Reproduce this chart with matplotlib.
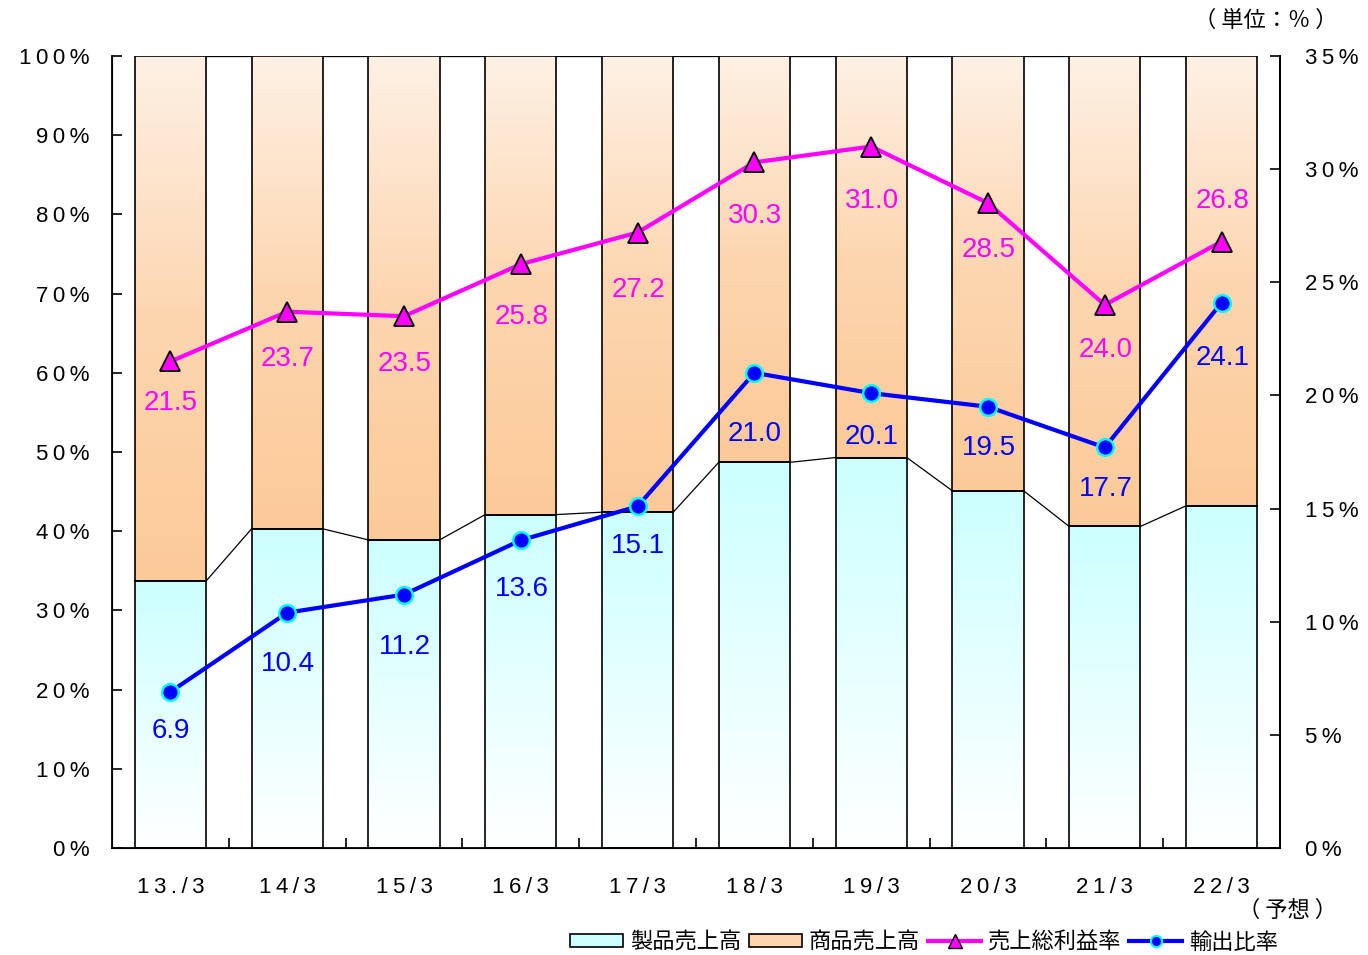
import matplotlib.pyplot as plt
import numpy as np
from matplotlib.colors import LinearSegmentedColormap
from matplotlib.lines import Line2D
from matplotlib.patches import Patch

plt.rcParams['font.family'] = ['Liberation Sans', 'DejaVu Sans']

# data
periods = ['13./3', '14/3', '15/3', '16/3', '17/3',
           '18/3', '19/3', '20/3', '21/3', '22/3']
product_share = [33.7, 40.3, 38.9, 42.1, 42.4, 48.7, 49.3, 45.1, 40.6, 43.2]
merch_share = [100 - v for v in product_share]
gross_margin = [21.5, 23.7, 23.5, 25.8, 27.2, 30.3, 31.0, 28.5, 24.0, 26.8]
export_ratio = [6.9, 10.4, 11.2, 13.6, 15.1, 21.0, 20.1, 19.5, 17.7, 24.1]
left_ticks = [0, 10, 20, 30, 40, 50, 60, 70, 80, 90, 100]
right_ticks = [0, 5, 10, 15, 20, 25, 30, 35]

# label offsets (pixels below the marker; negative = above)
gm_offsets = [42, 47, 48, 53, 57, 54, 54, 47, 45, -41]
ex_offsets = [39, 51, 52, 49, 40, 61, 44, 41, 42, 55]

THIN = '\u2009'


def spaced(s):
    return THIN.join(s)


W, H = 1368, 955
fig = plt.figure(figsize=(W / 100, H / 100), dpi=100)
ax = fig.add_axes([112 / W, 107 / H, 1168 / W, 792 / H])

x = np.arange(len(periods))
bar_w = 0.61

cyan_cmap = LinearSegmentedColormap.from_list('cy', ['#ffffff', '#e6ffff', '#ccffff'])
peach_cmap = LinearSegmentedColormap.from_list('pc', ['#fcca98', '#fdd6b0', '#fef1e5'])
grad = np.linspace(0, 1, 256).reshape(-1, 1)

bars_lo = ax.bar(x, product_share, bar_w, facecolor='none', edgecolor='black', lw=1.2, zorder=3)
bars_hi = ax.bar(x, merch_share, bar_w, bottom=product_share, facecolor='none',
                 edgecolor='black', lw=1.2, zorder=3)

for bars, cmap in ((bars_lo, cyan_cmap), (bars_hi, peach_cmap)):
    for p in bars:
        x0, y0 = p.get_x(), p.get_y()
        im = ax.imshow(grad, cmap=cmap, origin='lower', aspect='auto',
                       extent=[x0, x0 + p.get_width(), y0, y0 + p.get_height()], zorder=2)
        im.set_clip_path(p)

# series lines between bars
for i in range(len(x) - 1):
    xa = x[i] + bar_w / 2
    xb = x[i + 1] - bar_w / 2
    ax.plot([xa, xb], [product_share[i], product_share[i + 1]], color='black', lw=0.9, zorder=3)
    ax.plot([xa, xb], [100, 100], color='black', lw=0.9, zorder=3)

ax.set_xlim(-0.5, len(x) - 0.5)
ax.set_ylim(0, 100)
ax.set_yticks(left_ticks)
ax.set_yticklabels([spaced(f'{v}%') for v in left_ticks])
ax.set_xticks(x)
ax.set_xticklabels([spaced(p) for p in periods])
ax.set_xticks(x[:-1] + 0.5, minor=True)
ax.tick_params(axis='x', which='major', length=0, pad=21, labelsize=16)
ax.tick_params(axis='x', which='minor', direction='in', length=7, width=1.2)
ax.tick_params(axis='y', direction='in', length=7, width=1.2, pad=16, labelsize=16)
ax.spines['top'].set_visible(False)
for s in ('left', 'bottom', 'right'):
    ax.spines[s].set_linewidth(1.3)

ax2 = ax.twinx()
ax2.set_ylim(0, 35)
ax2.set_yticks(right_ticks)
ax2.set_yticklabels([spaced(f'{v}%') for v in right_ticks])
ax2.tick_params(axis='y', direction='in', length=7, width=1.2, pad=18, labelsize=16)
ax2.spines['top'].set_visible(False)
ax2.spines['right'].set_linewidth(1.3)

ax2.plot(x, gross_margin, color='#ff00ff', lw=3, marker='^', markersize=15,
         markerfacecolor='#ff00ff', markeredgecolor='black', markeredgewidth=1.3, zorder=5)
ax2.plot(x, export_ratio, color='#0000ff', lw=3, marker='o', markersize=12,
         markerfacecolor='#0000ff', markeredgecolor='#00ffff', markeredgewidth=1.8, zorder=5)

for i, v in enumerate(gross_margin):
    ax2.annotate(f'{v:.1f}', (x[i], v), xytext=(0.5, -gm_offsets[i] * 0.72), textcoords='offset points',
                 ha='center', va='center', fontsize=20, color='#ff00ff', zorder=6)
for i, v in enumerate(export_ratio):
    ax2.annotate(f'{v:.1f}', (x[i], v), xytext=(0.5, -ex_offsets[i] * 0.72), textcoords='offset points',
                 ha='center', va='center', fontsize=20, color='#0000ff', zorder=6)

cjk = ['Noto Sans CJK JP', 'DejaVu Sans']
fig.text(1337 / W, 1 - 20 / H, '（ 単位：％ ）', ha='right', va='center', fontsize=16, family=cjk)
fig.text(1337 / W, 1 - 910 / H, '（ 予想 ）', ha='right', va='center', fontsize=16, family=cjk)

handles = [
    Patch(facecolor='#ccffff', edgecolor='black', lw=1.2),
    Patch(facecolor='#fdd6b0', edgecolor='black', lw=1.2),
    Line2D([], [], color='#ff00ff', lw=3, marker='^', markersize=10,
           markerfacecolor='#ff00ff', markeredgecolor='black'),
    Line2D([], [], color='#0000ff', lw=3, marker='o', markersize=8,
           markerfacecolor='#0000ff', markeredgecolor='#00ffff', markeredgewidth=1.5),
]
labels = ['製品売上高', '商品売上高', '売上総利益率', '輸出比率']
fig.legend(handles, labels, loc='center', bbox_to_anchor=(924 / W, 1 - 942 / H), ncol=4,
           frameon=False, prop={'family': cjk, 'size': 16}, handlelength=2.4,
           handleheight=0.55, handletextpad=0.3, columnspacing=0.35, borderpad=0)

fig.savefig('out.png', dpi=100)
